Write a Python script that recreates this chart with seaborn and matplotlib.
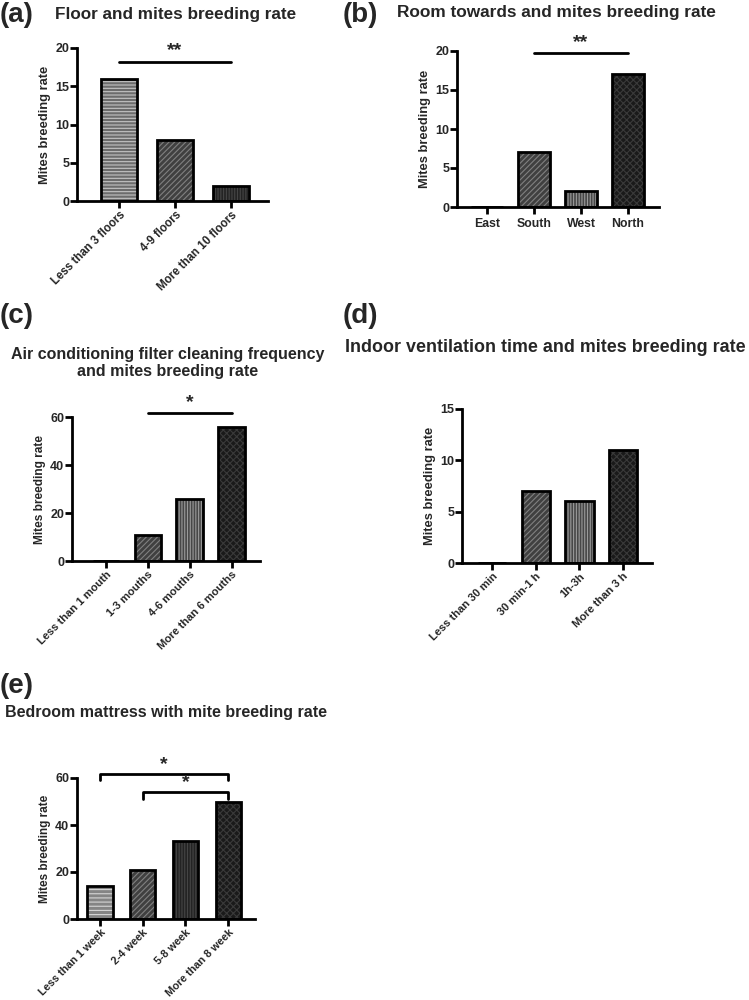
import matplotlib
matplotlib.use("Agg")
import matplotlib.pyplot as plt
import seaborn as sns

# data
floor_cats = ["Less than 3 floors", "4-9 floors", "More than 10 floors"]
floor_vals = [16, 8, 2]

room_cats = ["East", "South", "West", "North"]
room_vals = [0, 7, 2, 17]

filter_cats = ["Less than 1 mouth", "1-3 mouths", "4-6 mouths", "More than 6 mouths"]
filter_vals = [0, 11, 26, 56]

vent_cats = ["Less than 30 min", "30 min-1 h", "1h-3h", "More than 3 h"]
vent_vals = [0, 7, 6, 11]

mattress_cats = ["Less than 1 week", "2-4 week", "5-8 week", "More than 8 week"]
mattress_vals = [14, 21, 33, 50]

sns.set_theme(style="ticks")
plt.rcParams["font.family"] = ["Liberation Sans", "DejaVu Sans"]
plt.rcParams["font.weight"] = "bold"
plt.rcParams["hatch.linewidth"] = 0.8

# (hatch, fill, hatch colour)
HORIZ = ("-----", "#6c6c6c", "#c4c4c4")
HORIZ_L = ("----", "#858585", "#d6d6d6")
DIAG = ("//////", "#404040", "#808080")
VERT_L = ("||||||", "#474747", "#9a9a9a")
VERT_D = ("||||||", "#232323", "#454545")
CHECK = ("xxxxx", "#1a1a1a", "#3a3a3a")


def draw_panel(ax, cats, vals, styles, ymax, yticks, xlim, width, rotate=True,
               lab_size=9.3, xt_size=8.0):
    fills = [s[1] for s in styles]
    sns.barplot(x=cats, y=vals, hue=cats, palette=fills, legend=False, ax=ax,
                width=width, saturation=1, linewidth=0, errorbar=None)
    for p, s in zip(ax.patches, styles):
        p.set_hatch(s[0])
        p.set_edgecolor(s[2])
        p.set_linewidth(0)
    n = len(ax.patches)
    sns.barplot(x=cats, y=vals, ax=ax, width=width, color="white",
                saturation=1, errorbar=None)
    for p in ax.patches[n:]:
        p.set_facecolor("none")
        p.set_edgecolor("black")
        p.set_linewidth(2)

    ax.set_xlim(*xlim)
    ax.set_ylim(0, ymax)
    ax.set_yticks(yticks)
    ax.set_xticks(range(len(cats)))
    if rotate:
        ax.set_xticklabels(cats, rotation=45, ha="right", rotation_mode="anchor",
                           fontweight="bold", fontsize=xt_size)
        ax.tick_params(axis="x", pad=1)
    else:
        ax.set_xticklabels(cats, fontweight="bold", fontsize=8.8)
        ax.tick_params(axis="x", pad=3)
    for lab in ax.get_yticklabels():
        lab.set_fontweight("bold")
    ax.tick_params(axis="both", width=2, length=5, color="black")
    ax.tick_params(axis="y", labelsize=9, pad=0.5)
    ax.set_ylabel("Mites breeding rate", fontweight="bold", fontsize=lab_size,
                  labelpad=3)
    ax.set_xlabel("")
    sns.despine(ax=ax)
    for sp in ["left", "bottom"]:
        ax.spines[sp].set_linewidth(2)
        ax.spines[sp].set_color("black")


def sig_line(ax, i0, i1, y, stars):
    ax.plot([i0, i1], [y, y], color="black", lw=2, clip_on=False)
    top = ax.get_ylim()[1]
    ax.text((i0 + i1) / 2, y + top * 0.015, stars, ha="center", va="bottom",
            fontsize=14, fontweight="bold")


def sig_bracket(ax, i0, i1, y, tip, stars):
    ax.plot([i0, i0, i1, i1], [y - tip, y, y, y - tip], color="black", lw=2,
            clip_on=False)
    ax.text((i0 + i1) / 2, y + 0.6, stars, ha="center", va="bottom",
            fontsize=14, fontweight="bold")


fig = plt.figure(figsize=(7.49, 10), dpi=100)
W, H = 749, 1000


def add_ax(x0, y0, x1, y1):
    return fig.add_axes([x0 / W, 1 - y1 / H, (x1 - x0) / W, (y1 - y0) / H])


# (a)
ax_a = add_ax(77, 48, 268, 201)
draw_panel(ax_a, floor_cats, floor_vals, [HORIZ, DIAG, VERT_D], 20,
           [0, 5, 10, 15, 20], (-0.75, 2.66), 0.63, xt_size=8.3)
sig_line(ax_a, 0, 2, 18.2, "**")

# (b)
ax_b = add_ax(457, 51, 659, 207)
draw_panel(ax_b, room_cats, room_vals, [DIAG, DIAG, VERT_L, CHECK], 20,
           [0, 5, 10, 15, 20], (-0.64, 3.66), 0.68, rotate=False)
sig_line(ax_b, 1, 3, 19.7, "**")

# (c)
ax_c = add_ax(72, 417, 260, 561)
draw_panel(ax_c, filter_cats, filter_vals, [DIAG, DIAG, VERT_L, CHECK], 60,
           [0, 20, 40, 60], (-0.81, 3.67), 0.64, lab_size=8.6)
sig_line(ax_c, 1, 3, 61.7, "*")

# (d)
ax_d = add_ax(462, 409, 652, 563)
draw_panel(ax_d, vent_cats, vent_vals, [DIAG, DIAG, VERT_L, CHECK], 15,
           [0, 5, 10, 15], (-0.69, 3.66), 0.65)

# (e)
ax_e = add_ax(77, 778, 255, 919)
draw_panel(ax_e, mattress_cats, mattress_vals, [HORIZ_L, DIAG, VERT_D, CHECK], 60,
           [0, 20, 40, 60], (-0.54, 3.63), 0.59, lab_size=8.5, xt_size=7.8)
sig_bracket(ax_e, 0, 3, 61.7, 2.6, "*")
sig_bracket(ax_e, 1, 3, 54.0, 2.9, "*")

# panel letters and titles
lab_kw = dict(fontsize=20, fontweight="bold", va="center")
fig.text(0 / W, 1 - 15 / H, "(a)", ha="left", **lab_kw)
fig.text(343 / W, 1 - 15 / H, "(b)", ha="left", **lab_kw)
fig.text(0 / W, 1 - 316 / H, "(c)", ha="left", **lab_kw)
fig.text(343 / W, 1 - 316 / H, "(d)", ha="left", **lab_kw)
fig.text(0 / W, 1 - 686 / H, "(e)", ha="left", **lab_kw)

tit = dict(fontweight="bold", va="center")
fig.text(55 / W, 1 - 15 / H, "Floor and mites breeding rate", ha="left",
         fontsize=12.3, **tit)
fig.text(397 / W, 1 - 13 / H, "Room towards and mites breeding rate", ha="left",
         fontsize=12.4, **tit)
fig.text(168 / W, 1 - 363 / H,
         "Air conditioning filter cleaning frequency\nand mites breeding rate",
         ha="center", linespacing=1.12, multialignment="center", fontsize=11.5, **tit)
fig.text(345 / W, 1 - 348 / H, "Indoor ventilation time and mites breeding rate",
         ha="left", fontsize=12.9, **tit)
fig.text(5 / W, 1 - 712 / H, "Bedroom mattress with mite breeding rate",
         ha="left", fontsize=11.5, **tit)

fig.savefig("out.png", dpi=100, facecolor="white")
